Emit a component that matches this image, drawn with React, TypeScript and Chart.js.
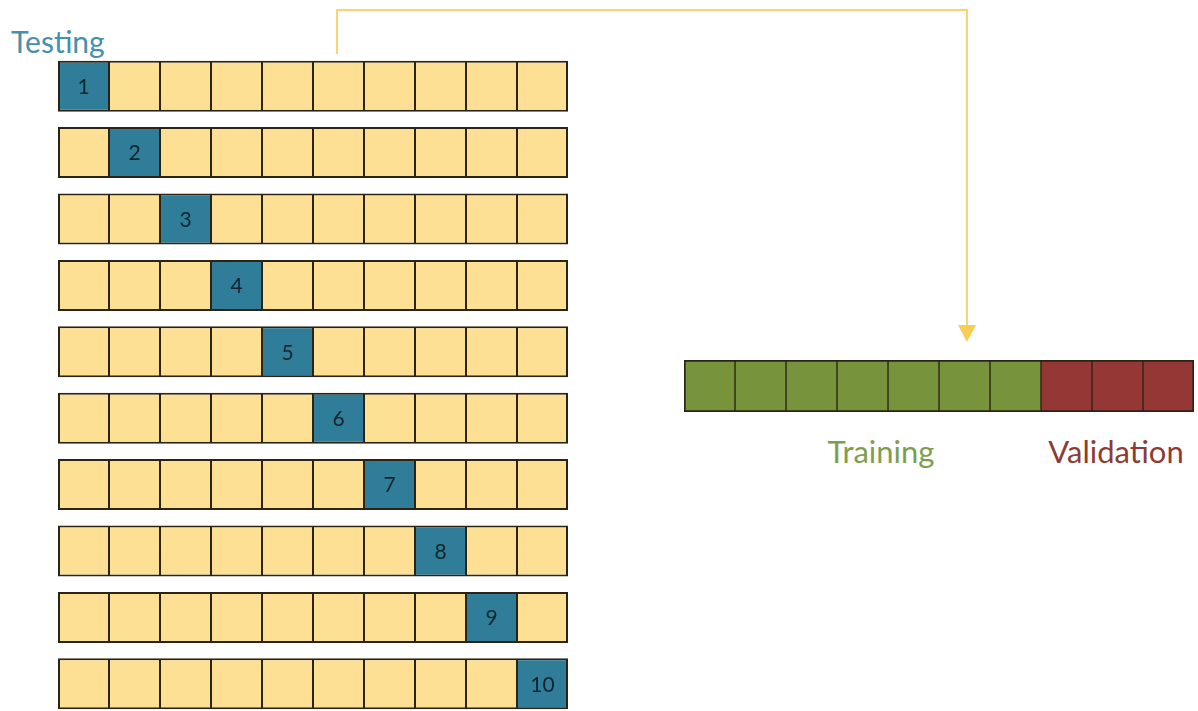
import React, { useEffect, useRef } from "react";
import { Chart, registerables } from "chart.js";

Chart.register(...registerables);

// ---- data ----
const foldLabels = ["1", "2", "3", "4", "5", "6", "7", "8", "9", "10"];
const cellIndex = [0, 1, 2, 3, 4, 5, 6, 7, 8, 9];
const testCellOfFold = [0, 1, 2, 3, 4, 5, 6, 7, 8, 9];
const cellSize = [1, 1, 1, 1, 1, 1, 1, 1, 1, 1];
const splitRole = ["train", "train", "train", "train", "train", "train", "train", "val", "val", "val"];
const panelTitle = "Testing";
const trainingLabel = "Training";
const validationLabel = "Validation";

// ---- styles ----
const YELLOW = "#FEE094";
const TEAL = "#2F7D98";
const GREEN = "#77933C";
const RED = "#953735";
const BORDER = "#2A2416";
const FONT = "Lato, 'Open Sans', sans-serif";

const cellBorder = (n: number) => (ctx: any) => ({
  top: 2,
  bottom: 2,
  left: ctx.datasetIndex === 0 ? 2 : 1,
  right: ctx.datasetIndex === n - 1 ? 2 : 1,
});

const foldTextPlugin = {
  id: "foldText",
  afterDatasetsDraw(chart: any) {
    const c = chart.ctx;
    c.save();
    c.font = `21px ${FONT}`;
    c.fillStyle = "#15252C";
    c.textAlign = "center";
    c.textBaseline = "middle";
    foldLabels.forEach((lab, f) => {
      const meta = chart.getDatasetMeta(testCellOfFold[f]);
      const el = meta.data[f];
      if (!el) return;
      c.fillText(lab, (el.x + el.base) / 2, el.y + 1);
    });
    c.restore();
  },
};

const baseOptions: any = {
  indexAxis: "y",
  animation: false,
  responsive: false,
  maintainAspectRatio: false,
  layout: { padding: 0 },
  scales: {
    x: { type: "linear", stacked: true, min: 0, max: 10, display: false },
    y: { type: "category", stacked: true, display: false },
  },
  plugins: { legend: { display: false }, tooltip: { enabled: false } },
};

function FoldsChart() {
  const ref = useRef<HTMLCanvasElement>(null);
  useEffect(() => {
    const chart = new Chart(ref.current!, {
      type: "bar",
      data: {
        labels: foldLabels,
        datasets: cellIndex.map((c) => ({
          label: "cell " + (c + 1),
          data: foldLabels.map(() => cellSize[c]),
          backgroundColor: foldLabels.map((_, f) => (testCellOfFold[f] === c ? TEAL : YELLOW)),
          borderColor: BORDER,
          borderWidth: cellBorder(cellIndex.length) as any,
          borderSkipped: false as any,
          categoryPercentage: 1,
          barPercentage: 0.768,
        })),
      },
      options: baseOptions,
      plugins: [foldTextPlugin],
    });
    return () => chart.destroy();
  }, []);
  return (
    <canvas
      ref={ref}
      width={510}
      height={664}
      style={{ position: "absolute", left: 58, top: 53, width: 510, height: 664 }}
    />
  );
}

function SplitChart() {
  const ref = useRef<HTMLCanvasElement>(null);
  useEffect(() => {
    const chart = new Chart(ref.current!, {
      type: "bar",
      data: {
        labels: ["split"],
        datasets: splitRole.map((r, c) => ({
          label: "cell " + (c + 1),
          data: [cellSize[c]],
          backgroundColor: r === "train" ? GREEN : RED,
          borderColor: BORDER,
          borderWidth: cellBorder(splitRole.length) as any,
          borderSkipped: false as any,
          categoryPercentage: 1,
          barPercentage: 1,
        })),
      },
      options: baseOptions,
    });
    return () => chart.destroy();
  }, []);
  return (
    <canvas
      ref={ref}
      width={510}
      height={52}
      style={{ position: "absolute", left: 684, top: 360, width: 510, height: 52 }}
    />
  );
}

export default function App() {
  return (
    <div
      style={{
        position: "fixed",
        left: 0,
        top: 0,
        width: 1198,
        height: 711,
        overflow: "hidden",
        background: "#FFFFFF",
        fontFamily: FONT,
      }}
    >
      <svg width={1198} height={711} style={{ position: "absolute", left: 0, top: 0 }}>
        <polyline
          points="337,54 337,10 967,10 967,327"
          fill="none"
          stroke="#F9D470"
          strokeWidth={2}
        />
        <polygon points="958,325 976,325 967,342" fill="#F9CC55" />
      </svg>
      <div
        style={{
          position: "absolute",
          left: 11,
          top: 23,
          fontSize: 30,
          lineHeight: "36px",
          color: "#4590AA",
        }}
      >
        {panelTitle}
      </div>
      <FoldsChart />
      <SplitChart />
      <div
        style={{
          position: "absolute",
          left: 781,
          width: 200,
          textAlign: "center",
          top: 433,
          fontSize: 31,
          lineHeight: "36px",
          color: "#7E9E4F",
        }}
      >
        {trainingLabel}
      </div>
      <div
        style={{
          position: "absolute",
          left: 1016,
          width: 200,
          textAlign: "center",
          top: 433,
          fontSize: 31,
          lineHeight: "36px",
          color: "#8E3B33",
        }}
      >
        {validationLabel}
      </div>
    </div>
  );
}
